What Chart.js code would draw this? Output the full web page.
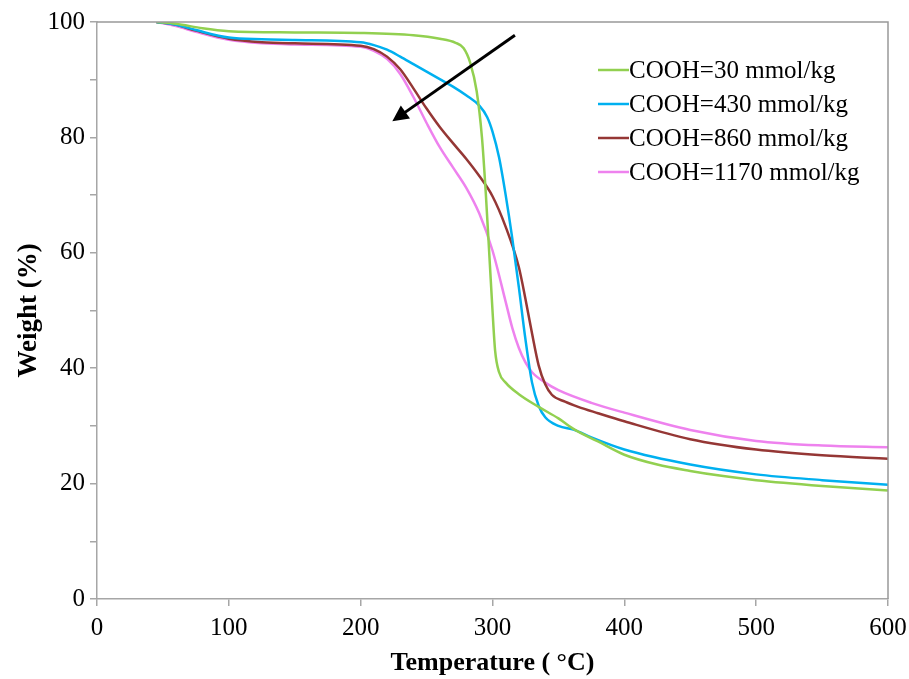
<!DOCTYPE html>
<html>
<head>
<meta charset="utf-8">
<script src="https://cdn.jsdelivr.net/npm/chart.js@4.4.1/dist/chart.umd.min.js"></script>
<style>
  html, body { margin: 0; padding: 0; background: #ffffff; }
  #wrap { width: 909px; height: 679px; }
</style>
</head>
<body>
<div id="wrap"><canvas id="tga" width="909" height="679"></canvas></div>
<script>
// TGA weight-loss curves, [temperature °C, weight %]
const seriesLabels = ['COOH=30 mmol/kg', 'COOH=430 mmol/kg', 'COOH=860 mmol/kg', 'COOH=1170 mmol/kg'];
const seriesColors = ['#92d050', '#00b0f0', '#953735', '#ee82ee'];

const cooh30 = [
  [45, 100], [60, 99.7], [80, 98.9], [100, 98.4], [150, 98.2], [200, 98.1], [240, 97.7],
  [260, 97.1], [272, 96.4], [278, 95.5], [283, 93], [288, 88], [292, 80], [295, 70],
  [298, 58], [300, 50], [302, 43], [305, 39.3], [310, 37.5], [320, 35.5], [335, 33.3],
  [350, 31.3], [362, 29.4], [380, 27.3], [400, 25], [425, 23.3], [450, 22.2], [475, 21.3],
  [500, 20.6], [550, 19.6], [600, 18.8]
];
const cooh430 = [
  [45, 100], [60, 99.5], [75, 98.6], [100, 97.3], [125, 97], [150, 96.9], [200, 96.5],
  [210, 96], [220, 95.2], [230, 94], [240, 92.7], [250, 91.4], [260, 90.1], [270, 88.8],
  [280, 87.3], [290, 85.5], [296, 83.5], [300, 81], [305, 76.5], [310, 70], [315, 62.5],
  [320, 54], [325, 45], [330, 37.5], [335, 33.5], [340, 31.5], [350, 30], [362, 29.3],
  [375, 28], [400, 25.9], [450, 23.3], [500, 21.6], [550, 20.6], [600, 19.8]
];
const cooh860 = [
  [45, 100], [60, 99.5], [75, 98.5], [100, 97.1], [125, 96.5], [150, 96.3], [200, 95.9],
  [210, 95.3], [220, 94], [230, 91.8], [240, 88.5], [250, 85], [260, 81.8], [270, 79],
  [280, 76.3], [290, 73.3], [300, 69.8], [310, 64.5], [320, 57.5], [325, 52], [330, 46],
  [335, 40.5], [340, 37.2], [345, 35.4], [355, 34.2], [365, 33.3], [380, 32.2], [400, 30.8],
  [450, 27.7], [500, 25.9], [550, 24.9], [600, 24.3]
];
const cooh1170 = [
  [45, 100], [60, 99.3], [75, 98.3], [100, 96.9], [125, 96.3], [150, 96.1], [200, 95.7],
  [210, 95], [220, 93.6], [230, 91], [240, 87], [250, 82.5], [260, 78.3], [270, 74.8],
  [280, 71.3], [290, 66.8], [300, 60.4], [310, 51.5], [315, 47], [320, 43.5], [325, 41],
  [330, 39.3], [340, 37.5], [350, 36.2], [375, 34], [400, 32.3], [450, 29.3], [500, 27.4],
  [550, 26.6], [600, 26.3]
];
const seriesData = [cooh30, cooh430, cooh860, cooh1170];

// Axis ranges and tick steps
const xTicks = [0, 100, 200, 300, 400, 500, 600];
const yLabelTicks = [0, 20, 40, 60, 80, 100];

// Trend arrow (tail -> head) in data units
const trendArrow = [[317, 97.7], [224, 82.8]];

const serif = "'Liberation Serif', 'Times New Roman', serif";
const axisGrey = '#a6a6a6';

const extras = {
  id: 'extras',
  afterDatasetsDraw(chart) {
    const { ctx, chartArea: a, scales: { x, y } } = chart;
    ctx.save();
    // top and right frame lines
    ctx.strokeStyle = '#999999';
    ctx.lineWidth = 1.5;
    ctx.beginPath();
    ctx.moveTo(a.left, a.top);
    ctx.lineTo(a.right, a.top);
    ctx.lineTo(a.right, a.bottom);
    ctx.stroke();

    // arrow
    const x0 = x.getPixelForValue(trendArrow[0][0]), y0 = y.getPixelForValue(trendArrow[0][1]);
    const x1 = x.getPixelForValue(trendArrow[1][0]), y1 = y.getPixelForValue(trendArrow[1][1]);
    const ang = Math.atan2(y1 - y0, x1 - x0);
    const headLen = 16, headW = 8;
    const bx = x1 - headLen * Math.cos(ang), by = y1 - headLen * Math.sin(ang);
    ctx.strokeStyle = '#000';
    ctx.fillStyle = '#000';
    ctx.lineWidth = 3;
    ctx.beginPath();
    ctx.moveTo(x0, y0);
    ctx.lineTo(bx + 4 * Math.cos(ang), by + 4 * Math.sin(ang));
    ctx.stroke();
    ctx.beginPath();
    ctx.moveTo(x1, y1);
    ctx.lineTo(bx + headW * Math.sin(ang), by - headW * Math.cos(ang));
    ctx.lineTo(bx - headW * Math.sin(ang), by + headW * Math.cos(ang));
    ctx.closePath();
    ctx.fill();

    // legend
    ctx.font = '25px ' + serif;
    ctx.textBaseline = 'middle';
    ctx.textAlign = 'left';
    chart.data.datasets.forEach((ds, i) => {
      const cy = 70 + i * 34;
      ctx.strokeStyle = ds.borderColor;
      ctx.lineWidth = 2.5;
      ctx.beginPath();
      ctx.moveTo(598, cy);
      ctx.lineTo(629, cy);
      ctx.stroke();
      ctx.fillStyle = '#000';
      ctx.fillText(ds.label, 629, cy + 1);
    });
    ctx.restore();
  }
};

new Chart(document.getElementById('tga'), {
  type: 'line',
  data: {
    datasets: seriesData.map((pts, i) => ({
      label: seriesLabels[i],
      data: pts.map(p => ({ x: p[0], y: p[1] })),
      borderColor: seriesColors[i],
      backgroundColor: seriesColors[i],
      borderWidth: 2.5,
      pointRadius: 0,
      fill: false,
      cubicInterpolationMode: 'monotone'
    }))
  },
  options: {
    responsive: false,
    animation: false,
    layout: { padding: { top: 22, right: 21, left: 0, bottom: 0 } },
    plugins: { legend: { display: false }, tooltip: { enabled: false } },
    scales: {
      x: {
        type: 'linear',
        min: xTicks[0],
        max: xTicks[xTicks.length - 1],
        afterBuildTicks: s => { s.ticks = xTicks.map(v => ({ value: v })); },
        afterFit: s => { s.height = 80; s.paddingLeft = 0; s.paddingRight = 0; },
        grid: { display: true, drawOnChartArea: false, drawTicks: true, tickLength: 7, color: axisGrey, lineWidth: 1.5 },
        border: { display: true, color: axisGrey, width: 1.5 },
        ticks: { color: '#000', padding: 7, font: { family: serif, size: 25 }, maxRotation: 0 },
        title: { display: true, text: 'Temperature ( °C)', color: '#000', padding: { top: 0, bottom: 0 },
                 font: { family: serif, size: 26, weight: 'bold' } }
      },
      y: {
        min: 0,
        max: 100,
        ticks: {
          stepSize: 10,
          color: '#000',
          padding: 5,
          font: { family: serif, size: 25 },
          callback: v => (yLabelTicks.includes(v) ? String(v) : '')
        },
        afterFit: s => { s.width = 97; s.paddingTop = 0; s.paddingBottom = 0; },
        grid: { display: true, drawOnChartArea: false, drawTicks: true, tickLength: 7, color: axisGrey, lineWidth: 1.5 },
        border: { display: true, color: axisGrey, width: 1.5 },
        title: { display: true, text: 'Weight (%)', color: '#000', padding: { top: 13, bottom: 0 },
                 font: { family: serif, size: 27, weight: 'bold' } }
      }
    }
  },
  plugins: [extras]
});
</script>
</body>
</html>
